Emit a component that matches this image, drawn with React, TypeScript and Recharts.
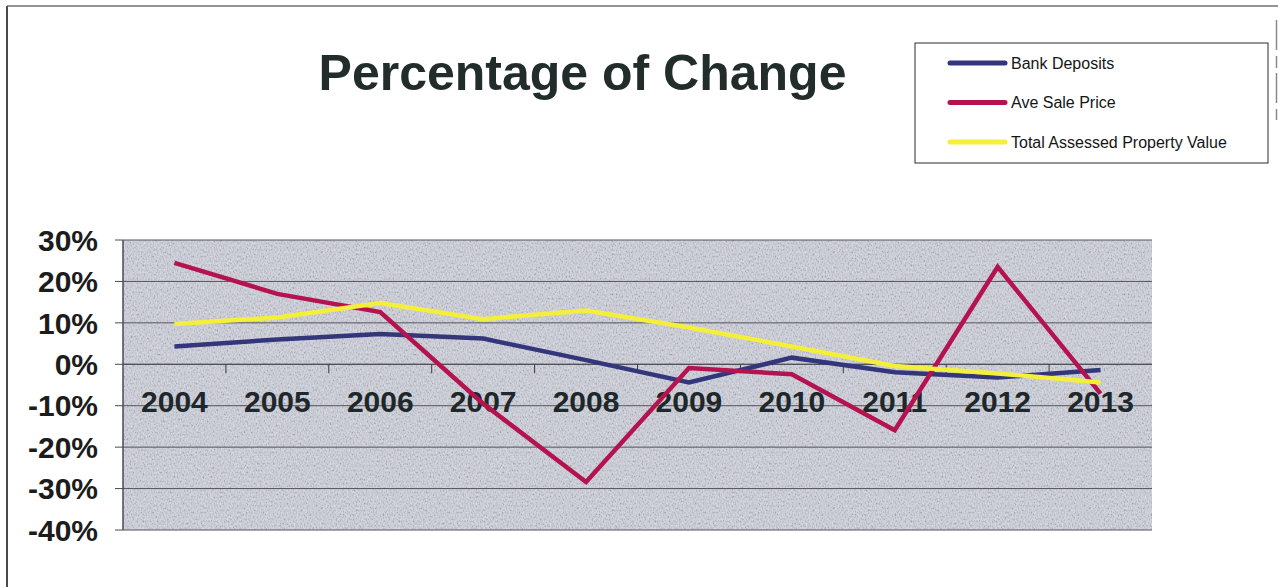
import React from 'react';
import { LineChart, Line, XAxis, YAxis, CartesianGrid, ReferenceLine } from 'recharts';

// Year-over-year percentage change by category
const years = ['2004', '2005', '2006', '2007', '2008', '2009', '2010', '2011', '2012', '2013'];
const bankDeposits = [4.3, 6.0, 7.3, 6.2, 1.0, -4.4, 1.6, -1.9, -3.2, -1.4];
const aveSalePrice = [24.5, 17.0, 12.6, -9.5, -28.4, -0.9, -2.4, -15.9, 23.5, -7.1];
const totalAssessedValue = [9.7, 11.3, 14.8, 10.9, 13.0, 8.9, 4.3, -0.4, -2.2, -4.4];

const yTicks = [30, 20, 10, 0, -10, -20, -30, -40];

const seriesNames = ['Bank Deposits', 'Ave Sale Price', 'Total Assessed Property Value'];
const seriesKeys = ['bank', 'sale', 'assessed'];
const seriesColors = ['#34367c', '#b5134f', '#f3ef3a'];

const titleText = 'Percentage of Change';

const data = years.map((year, i) => ({
  year,
  bank: bankDeposits[i],
  sale: aveSalePrice[i],
  assessed: totalAssessedValue[i],
}));

const W = 1278;
const H = 587;
const FONT = '"Liberation Sans", Arial, Helvetica, sans-serif';

// Category labels sit on the zero line, with tick marks between categories
const ZeroAxisLabels = (props: any) => {
  const vb = props.viewBox || {};
  const x0 = vb.x ?? 0;
  const y0 = vb.y ?? 0;
  const width = vb.width ?? 0;
  const band = width / years.length;
  return (
    <g>
      {years.slice(1).map((_, i) => (
        <line
          key={`t${i}`}
          x1={x0 + band * (i + 1)}
          x2={x0 + band * (i + 1)}
          y1={y0}
          y2={y0 + 9}
          stroke="#3a3a40"
          strokeWidth={1}
        />
      ))}
      {years.map((yr, i) => (
        <text
          key={yr}
          x={x0 + band * (i + 0.5)}
          y={y0 + 37}
          textAnchor="middle"
          dominantBaseline="central"
          fontFamily={FONT}
          fontWeight="bold"
          fontSize={30}
          fill="#1e2729"
        >
          {yr}
        </text>
      ))}
    </g>
  );
};

export default function App() {
  return (
    <div
      style={{
        position: 'fixed',
        left: 0,
        top: 0,
        width: W,
        height: H,
        background: '#ffffff',
        overflow: 'hidden',
      }}
    >
      {/* grainy fill used for the plot background */}
      <svg width={0} height={0} style={{ position: 'absolute' }}>
        <defs>
          <filter id="grainFx" x="0" y="0" width="100%" height="100%">
            <feTurbulence type="fractalNoise" baseFrequency="0.7 0.45" numOctaves={2} seed={7} stitchTiles="stitch" result="noise" />
            <feColorMatrix
              in="noise"
              type="matrix"
              values="1.8 0 0 0 -0.4  1.8 0 0 0 -0.4  1.8 0 0 0 -0.4  0 0 0 0 0.2"
            />
          </filter>
          <pattern id="plotGrain" patternUnits="userSpaceOnUse" width={256} height={256}>
            <rect width={256} height={256} fill="#cdcfdb" />
            <rect width={256} height={256} fill="#000000" filter="url(#grainFx)" />
          </pattern>
        </defs>
      </svg>

      <div style={{ position: 'absolute', left: 0, top: 0 }}>
        <LineChart
          width={W}
          height={H}
          data={data}
          margin={{ top: 240, right: 126, bottom: 57, left: 0 }}
        >
          <CartesianGrid
            vertical={false}
            stroke="#55555c"
            strokeWidth={1}
            fill="url(#plotGrain)"
            fillOpacity={1}
          />
          <XAxis
            dataKey="year"
            height={0}
            tick={false}
            tickLine={false}
            axisLine={{ stroke: '#6c6c98', strokeWidth: 2 }}
            padding={{ left: 51.45, right: 51.45 }}
          />
          <YAxis
            domain={[-40, 30]}
            ticks={yTicks}
            interval={0}
            width={123}
            tickSize={8}
            tickMargin={17}
            tickFormatter={(v: number) => `${v}%`}
            tick={{ fill: '#1c1c1c', fontSize: 30, fontWeight: 'bold', fontFamily: FONT }}
            axisLine={{ stroke: '#4a4a55', strokeWidth: 1.5 }}
            tickLine={{ stroke: '#4a4a55' }}
          />
          <YAxis
            yAxisId="frame"
            orientation="right"
            domain={[-40, 30]}
            width={0}
            tick={false}
            tickLine={false}
            axisLine={{ stroke: '#6c6c98', strokeWidth: 2 }}
          />
          <ReferenceLine y={0} stroke="#4a4a52" strokeWidth={1} label={(p: any) => <ZeroAxisLabels {...p} />} />
          {seriesKeys.map((k, i) => (
            <Line
              key={k}
              type="linear"
              dataKey={k}
              name={seriesNames[i]}
              stroke={seriesColors[i]}
              strokeWidth={4.5}
              dot={false}
              activeDot={false}
              isAnimationActive={false}
            />
          ))}
        </LineChart>
      </div>

      <svg
        width={W}
        height={H}
        style={{ position: 'absolute', left: 0, top: 0, pointerEvents: 'none' }}
      >
        {/* page frame */}
        <path d={`M7,${H} V6`} fill="none" stroke="#4a4a4a" strokeWidth={2} />
        <path d={`M7,6 H${W}`} fill="none" stroke="#6e6e6e" strokeWidth={1.5} />
        <path d="M1276.5,20 V120" fill="none" stroke="#8a8a8a" strokeWidth={1.5} strokeDasharray="30 6 12 5" />

        {/* title */}
        <text
          x={582.5}
          y={90}
          textAnchor="middle"
          fontFamily={FONT}
          fontWeight="bold"
          fontSize={50}
          fill="#222d2b"
        >
          {titleText}
        </text>

        {/* legend */}
        <rect x={915} y={43} width={353} height={120} fill="#ffffff" stroke="#2a2a2a" strokeWidth={1} />
        {seriesNames.map((name, i) => {
          const cy = 63 + i * 39.5;
          return (
            <g key={name}>
              <line x1={950} x2={1005} y1={cy} y2={cy} stroke={seriesColors[i]} strokeWidth={5} strokeLinecap="round" />
              <text
                x={1011}
                y={cy}
                dominantBaseline="central"
                fontFamily={FONT}
                fontSize={16}
                fill="#151515"
              >
                {name}
              </text>
            </g>
          );
        })}
      </svg>
    </div>
  );
}
